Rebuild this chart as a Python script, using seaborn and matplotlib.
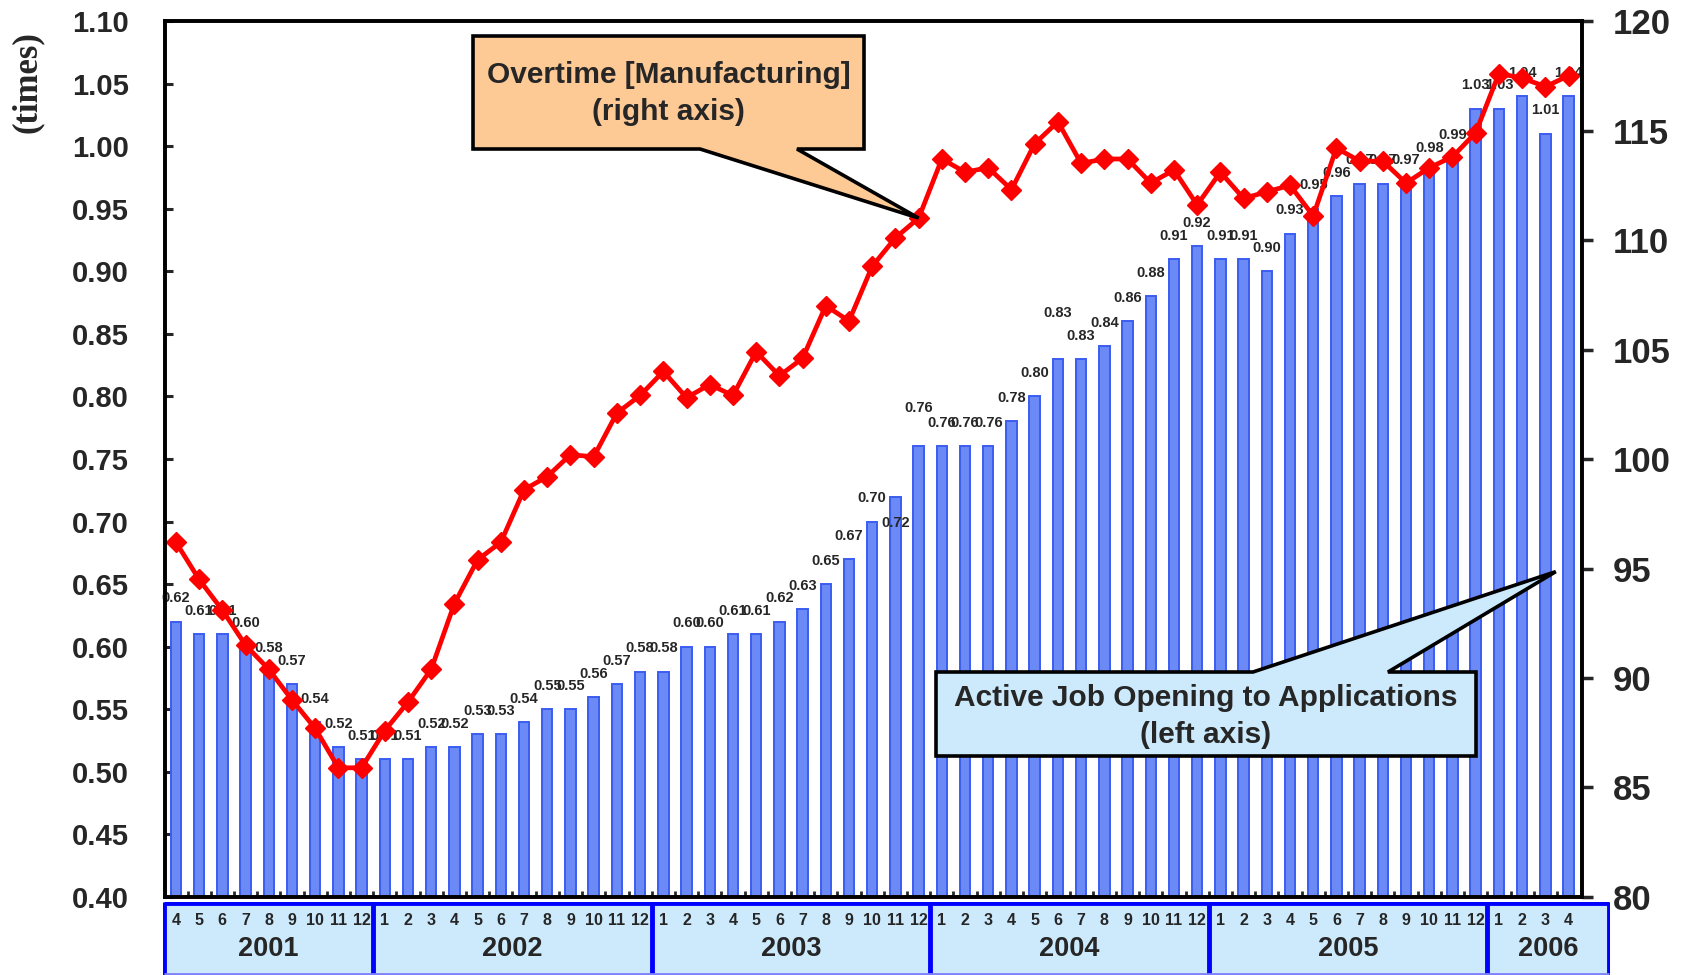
import numpy as np
import pandas as pd
import matplotlib
matplotlib.use("Agg")
import matplotlib.pyplot as plt
import seaborn as sns
from matplotlib.patches import Polygon
from matplotlib.transforms import IdentityTransform
from matplotlib import font_manager

# months shown on the axis: 2001-04 .. 2006-04
years = [2001, 2002, 2003, 2004, 2005, 2006]
months = ([4, 5, 6, 7, 8, 9, 10, 11, 12]
          + list(range(1, 13)) * 4
          + [1, 2, 3, 4])

# Active job openings to applications (left axis, times)
job_ratio = [0.62, 0.61, 0.61, 0.60, 0.58, 0.57, 0.54, 0.52, 0.51,
             0.51, 0.51, 0.52, 0.52, 0.53, 0.53, 0.54, 0.55, 0.55, 0.56, 0.57, 0.58,
             0.58, 0.60, 0.60, 0.61, 0.61, 0.62, 0.63, 0.65, 0.67, 0.70, 0.72, 0.76,
             0.76, 0.76, 0.76, 0.78, 0.80, 0.83, 0.83, 0.84, 0.86, 0.88, 0.91, 0.92,
             0.91, 0.91, 0.90, 0.93, 0.95, 0.96, 0.97, 0.97, 0.97, 0.98, 0.99, 1.03,
             1.03, 1.04, 1.01, 1.04]

# Overtime hours, manufacturing (right axis, index)
overtime = [96.2, 94.5, 93.1, 91.5, 90.4, 89.0, 87.7, 85.9, 85.9,
            87.6, 88.9, 90.4, 93.4, 95.4, 96.2, 98.6, 99.2, 100.2, 100.1, 102.1, 102.9,
            104.0, 102.8, 103.4, 102.9, 104.9, 103.8, 104.6, 107.0, 106.3, 108.8, 110.1, 111.0,
            113.7, 113.1, 113.3, 112.3, 114.4, 115.4, 113.5, 113.7, 113.7, 112.6, 113.2, 111.6,
            113.1, 111.9, 112.2, 112.5, 111.1, 114.2, 113.6, 113.6, 112.6, 113.3, 113.8, 114.9,
            117.6, 117.4, 117.0, 117.5]

df = pd.DataFrame({"idx": np.arange(len(job_ratio)), "month": months,
                   "ratio": job_ratio, "overtime": overtime})

sns.set_theme(style="white")
names = {f.name for f in font_manager.fontManager.ttflist}
narrow = "Liberation Sans Narrow" if "Liberation Sans Narrow" in names else "Liberation Sans"
plt.rcParams["font.family"] = ["Liberation Sans", "DejaVu Sans"]

W, H = 1694, 975
fig = plt.figure(figsize=(W / 100, H / 100), dpi=100)
fig.patch.set_facecolor("white")

# main axes (pixel layout of the reference)
L, R, T, B = 165, 1582, 21, 897
ax = fig.add_axes([L / W, 1 - B / H, (R - L) / W, (B - T) / H])
x0, x1 = -0.47, 60.58

sns.barplot(data=df, x="idx", y="ratio", ax=ax, color="#6b8af5",
            edgecolor="#3a5cf0", linewidth=1.4, width=0.45, saturation=1)

label_nudge = {31: -0.04, 32: 0.012, 38: 0.018}
for i, v in enumerate(job_ratio):
    ax.text(i, v + 0.013 + label_nudge.get(i, 0), f"{v:.2f}", ha="center", va="bottom",
            fontsize=10.5, fontweight="bold", family=narrow, zorder=3)

ax.set_ylim(0.40, 1.10)
ax.set_yticks(np.arange(0.40, 1.101, 0.05))
ax.set_yticklabels([f"{t:.2f}" for t in np.arange(0.40, 1.101, 0.05)])
ax.set_xticks(np.arange(0.5, 60, 1))
ax.set_xticklabels([])
ax.set_xlabel("")
ax.set_ylabel("")
ax.tick_params(axis="y", direction="in", length=6, width=2.2, labelsize=21, pad=26,
               left=True, right=False)
ax.tick_params(axis="x", direction="in", length=4, width=2, bottom=True)
for lab in ax.get_yticklabels():
    lab.set_fontweight("bold")

ax2 = ax.twinx()
sns.lineplot(data=df, x="idx", y="overtime", ax=ax2, color="#ff0000", linewidth=3.4,
             marker="D", markersize=10.5, markeredgecolor="#ff0000", markeredgewidth=1)
ax2.set_ylim(80, 120)
ax2.set_yticks(np.arange(80, 121, 5))
ax2.set_ylabel("")
ax2.set_xlabel("")
ax2.tick_params(axis="y", direction="out", length=8, width=2.5, labelsize=25, pad=14)
for lab in ax2.get_yticklabels():
    lab.set_fontweight("bold")
ax.set_xlim(x0, x1)
ax2.set_xlim(x0, x1)
for a in (ax, ax2):
    for s in a.spines.values():
        s.set_linewidth(2.6)
        s.set_color("black")
        s.set_visible(True)

fig.text(27 / W, 1 - 82 / H, "(times)", rotation=90, ha="center", va="center",
         fontsize=25, fontweight="bold", family="Liberation Serif")

# month / year band under the axis
BL, BR, BT = 163, 1610, 902
bx0 = x0 + (BL - L) * (x1 - x0) / (R - L)
bx1 = x0 + (BR - L) * (x1 - x0) / (R - L)
band = fig.add_axes([BL / W, 0, (BR - BL) / W, (H - BT) / H])
band.set_xlim(bx0, bx1)
band.set_ylim(0, 1)
band.axis("off")
edges = [bx0 + 0.04, 8.5, 20.5, 32.5, 44.5, 56.5, bx1 - 0.04]
band.axvspan(edges[0], edges[-1], color="#cceafc", zorder=0)
band.vlines(edges, 0, 1, color="#0000ff", linewidth=3.5)
band.hlines(0.985, edges[0], edges[-1], color="#0000ff", linewidth=3.5)
band.hlines(0.01, edges[0], edges[-1], color="#8080ff", linewidth=2)
for i, m in enumerate(months):
    band.text(i, 0.75, str(m), ha="center", va="center", fontsize=11.5,
              fontweight="bold", family=narrow)
for k, yr in enumerate(years):
    band.text((edges[k] + edges[k + 1]) / 2, 0.36, str(yr), ha="center", va="center",
              fontsize=19.5, fontweight="bold")


# callout boxes
def callout(box, base, tip, face, lines, line_y, size):
    bx_l, by_t, bx_r, by_b = box
    tx, ty = tip
    if ty > by_b:  # tail from bottom edge
        pts = [(bx_l, by_t), (bx_r, by_t), (bx_r, by_b), (base[1], by_b), (tx, ty),
               (base[0], by_b), (bx_l, by_b)]
    else:  # tail from top edge
        pts = [(bx_l, by_t), (base[0], by_t), (tx, ty), (base[1], by_t), (bx_r, by_t),
               (bx_r, by_b), (bx_l, by_b)]
    poly = Polygon([(px, H - py) for px, py in pts], closed=True, facecolor=face,
                   edgecolor="black", linewidth=2.6, transform=IdentityTransform(),
                   zorder=5)
    fig.add_artist(poly)
    cx = (bx_l + bx_r) / 2
    for txt, yy in zip(lines, line_y):
        fig.text(cx / W, 1 - yy / H, txt, ha="center", va="center", fontsize=size,
                 fontweight="bold", zorder=6)


fig.canvas.draw()
tip1 = ax2.transData.transform((32, overtime[32]))
tip2 = ax.transData.transform((59.45, 0.66))
callout((473, 36, 864, 149), (700, 797), (tip1[0], H - tip1[1]), "#fdc995",
        ["Overtime [Manufacturing]", "(right axis)"], [75, 112], 21.5)
callout((936, 672, 1476, 756), (1253, 1388), (tip2[0], H - tip2[1]), "#cceafc",
        ["Active Job Opening to Applications", "(left axis)"], [698, 735], 21.5)

fig.savefig("out.png", dpi=100, facecolor="white")
